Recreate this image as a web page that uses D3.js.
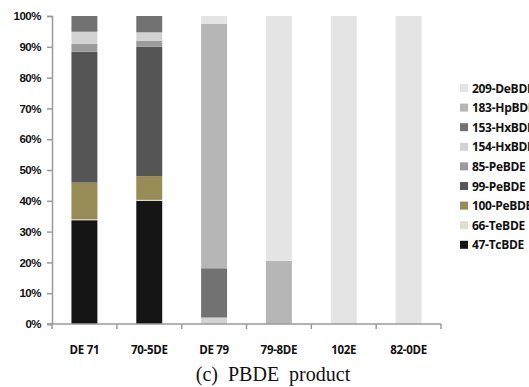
<!DOCTYPE html>
<html>
<head>
<meta charset="utf-8">
<script src="https://cdn.jsdelivr.net/npm/d3@7"></script>
<style>
  body { margin: 0; background: #fff; }
  svg { display: block; font-family: "Open Sans", sans-serif; }
</style>
</head>
<body>
<svg id="chart" width="529" height="387"></svg>
<script>
// products on the x axis
var products = ["DE 71", "70-5DE", "DE 79", "79-8DE", "102E", "82-0DE"];

// congeners, bottom of the stack first
var congeners = ["47-TcBDE", "66-TeBDE", "100-PeBDE", "99-PeBDE", "85-PeBDE",
                 "154-HxBDE", "153-HxBDE", "183-HpBDE", "209-DeBDE"];

// percent of each congener, one value per product
var tc47  = [33.7, 40.0, 0,    0,    0,   0];
var te66  = [0.3,  0.3,  0,    0,    0,   0];
var pe100 = [11.9, 7.7,  0,    0,    0,   0];
var pe99  = [42.5, 42.0, 0,    0,    0,   0];
var pe85  = [2.6,  2.0,  0,    0,    0,   0];
var hx154 = [3.9,  2.7,  2.1,  0,    0,   0];
var hx153 = [5.1,  5.3,  16.0, 0,    0,   0];
var hp183 = [0,    0,    79.3, 20.5, 0,   0];
var de209 = [0,    0,    2.6,  79.5, 100, 100];

var yTicks = [0, 10, 20, 30, 40, 50, 60, 70, 80, 90, 100];

var colors = ["#151515", "#e2dece", "#978b56", "#555555", "#9b9b9b",
              "#d2d2d2", "#727272", "#b6b6b6", "#e4e4e4"];

var seriesVals = [tc47, te66, pe100, pe99, pe85, hx154, hx153, hp183, de209];

// rows for d3.stack
var rows = products.map(function(p, i) {
    var r = {product: p};
    congeners.forEach(function(c, k) { r[c] = seriesVals[k][i]; });
    return r;
});

var svg = d3.select("#chart");

var x = d3.scaleBand().domain(products).range([52, 441]).paddingInner(0.6).paddingOuter(0.3);
var y = d3.scaleLinear().domain([0, 100]).range([324, 16]);
var color = d3.scaleOrdinal().domain(congeners).range(colors);

var stacked = d3.stack().keys(congeners)(rows);

svg.append("g")
    .selectAll("g")
    .data(stacked)
    .enter().append("g")
    .attr("fill", function(d) { return color(d.key); })
    .selectAll("rect")
    .data(function(d) { return d; })
    .enter().append("rect")
    .attr("x", function(d) { return x(d.data.product); })
    .attr("width", x.bandwidth())
    .attr("y", function(d) { return y(d[1]); })
    .attr("height", function(d) { return y(d[0]) - y(d[1]); });

// y axis
var yAxis = svg.append("g")
    .attr("transform", "translate(52,0)")
    .call(d3.axisLeft(y).tickValues(yTicks).tickSize(5).tickPadding(6)
          .tickFormat(function(d) { return d + "%"; }));
yAxis.select(".domain").attr("stroke", "#9a9a9a").attr("stroke-width", 1.5);
yAxis.selectAll(".tick line").attr("stroke", "#9a9a9a").attr("stroke-width", 1.5);
yAxis.selectAll("text")
    .attr("font-size", 11.5).attr("font-weight", "bold")
    .attr("fill", "#111").attr("letter-spacing", "-0.5");

// x axis line with tick marks between categories
var xAxisG = svg.append("g").attr("transform", "translate(0,324)");
xAxisG.append("line")
    .attr("x1", 47).attr("x2", 441)
    .attr("stroke", "#9a9a9a").attr("stroke-width", 1.5);
var bounds = d3.range(products.length + 1).map(function(i) { return 52 + (441 - 52) / products.length * i; });
xAxisG.selectAll(".bt")
    .data(bounds)
    .enter().append("line")
    .attr("x1", function(d) { return d; }).attr("x2", function(d) { return d; })
    .attr("y1", 0).attr("y2", 5)
    .attr("stroke", "#9a9a9a").attr("stroke-width", 1.5);

svg.append("g")
    .selectAll("text")
    .data(products)
    .enter().append("text")
    .attr("x", function(d) { return x(d) + x.bandwidth() / 2; })
    .attr("y", 354)
    .attr("text-anchor", "middle")
    .attr("font-size", 11.5).attr("font-weight", "bold")
    .attr("fill", "#111").attr("letter-spacing", "-0.3")
    .text(function(d) { return d; });

// caption
svg.append("text")
    .attr("x", 273).attr("y", 381)
    .attr("text-anchor", "middle")
    .attr("font-family", "'Liberation Serif', serif")
    .attr("font-size", 20)
    .attr("fill", "#111")
    .attr("xml:space", "preserve")
    .text("(c)  PBDE  product");

// legend, top item is the top of the stack
var legendItems = congeners.slice().reverse();
var legend = svg.append("g")
    .selectAll("g")
    .data(legendItems)
    .enter().append("g")
    .attr("transform", function(d, i) { return "translate(460," + (88 + i * 19.6) + ")"; });
legend.append("rect")
    .attr("x", 0).attr("y", -4).attr("width", 8).attr("height", 8)
    .attr("fill", function(d) { return color(d); });
legend.append("text")
    .attr("x", 12).attr("y", 4.5)
    .attr("font-size", 12).attr("font-weight", "bold")
    .attr("fill", "#111").attr("letter-spacing", "-0.3")
    .text(function(d) { return d; });
</script>
</body>
</html>
